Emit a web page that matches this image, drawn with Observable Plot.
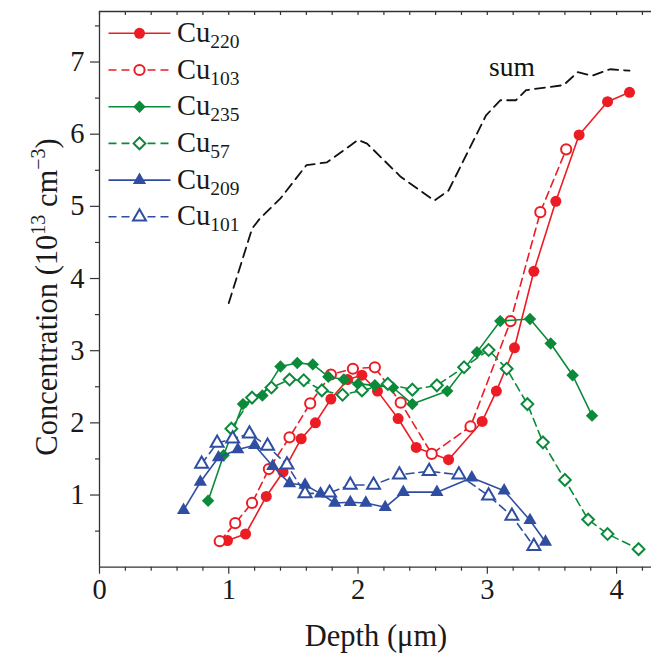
<!DOCTYPE html>
<html><head><meta charset="utf-8">
<script src="https://cdn.jsdelivr.net/npm/d3@7"></script>
<script src="https://cdn.jsdelivr.net/npm/@observablehq/plot@0.6"></script>
<style>
body{margin:0;background:#fff}
#chart svg{display:block}
</style>
</head><body><div id="chart"></div>
<script>
// ---- data (depth in µm, concentration in 1e13 cm^-3) ----
const cu220X = [0.99,1.13,1.29,1.42,1.56,1.67,1.79,1.92,2.03,2.15,2.31,2.45,2.70,2.96,3.07,3.21,3.36,3.53,3.71,3.93,4.10];
const cu220Y = [0.37,0.46,0.98,1.32,1.78,2.00,2.33,2.60,2.66,2.44,2.06,1.66,1.49,2.02,2.44,3.04,4.10,5.07,5.99,6.45,6.58];
const cu103X = [0.93,1.05,1.18,1.31,1.47,1.63,1.79,1.96,2.13,2.33,2.57,2.87,3.18,3.41,3.61];
const cu103Y = [0.36,0.61,0.89,1.36,1.80,2.27,2.67,2.75,2.77,2.28,1.57,1.95,3.41,4.92,5.79];
const cu235X = [0.84,0.96,1.11,1.26,1.40,1.53,1.65,1.77,1.89,2.00,2.13,2.27,2.42,2.69,2.92,3.10,3.33,3.49,3.66,3.81];
const cu235Y = [0.92,1.55,2.26,2.38,2.78,2.83,2.81,2.64,2.60,2.54,2.52,2.49,2.26,2.44,2.98,3.41,3.44,3.10,2.66,2.10];
const cu57X  = [1.02,1.18,1.33,1.47,1.58,1.72,1.88,2.03,2.23,2.42,2.61,2.82,3.01,3.15,3.31,3.43,3.60,3.78,3.93,4.17];
const cu57Y  = [1.92,2.35,2.49,2.60,2.59,2.45,2.39,2.45,2.54,2.46,2.52,2.77,3.01,2.75,2.26,1.73,1.21,0.66,0.46,0.25];
const cu209X = [0.65,0.78,0.92,1.07,1.20,1.34,1.47,1.59,1.71,1.82,1.94,2.06,2.21,2.35,2.61,2.88,3.13,3.33,3.45];
const cu209Y = [0.79,1.18,1.52,1.63,1.69,1.40,1.16,1.14,1.02,0.89,0.90,0.89,0.83,1.04,1.04,1.24,1.06,0.65,0.35];
const cu101X = [0.79,0.91,1.03,1.16,1.30,1.45,1.59,1.78,1.94,2.12,2.32,2.55,2.78,3.01,3.19,3.36];
const cu101Y = [1.43,1.72,1.78,1.85,1.68,1.42,1.02,1.03,1.14,1.14,1.28,1.33,1.28,0.99,0.71,0.29];
const sumX   = [1.00,1.18,1.24,1.40,1.60,1.76,2.00,2.07,2.33,2.59,2.70,2.99,3.10,3.22,3.30,3.59,3.70,3.81,3.95,4.10];
const sumY   = [3.66,4.69,4.83,5.11,5.57,5.61,5.92,5.87,5.41,5.08,5.22,6.26,6.47,6.47,6.61,6.68,6.86,6.81,6.90,6.88];

const seriesNames = ["220","103","235","57","209","101"];
const xTicks = [0,1,2,3,4];
const xMinorTicks = [0.2,0.4,0.6,0.8,1.2,1.4,1.6,1.8,2.2,2.4,2.6,2.8,3.2,3.4,3.6,3.8,4.2];
const xTopTicks = [0,0.2,0.4,0.6,0.8,1,1.2,1.4,1.6,1.8,2,2.2,2.4,2.6,2.8,3,3.2,3.4,3.6,3.8,4,4.2];
const yTicks = [1,2,3,4,5,6,7];
const yMinorTicks = [0.5,1.5,2.5,3.5,4.5,5.5,6.5,7.5];
const xDomain = [0, 4.27];
const yDomain = [0, 7.7];

// ---- styling ----
const RED = "#ec1c24", GREEN = "#0b8a3a", BLUE = "#2f4ea2";
const FONT = "'Liberation Serif','Times New Roman',serif";
const FS = 28.5;
const FS_TITLE = 30.5;
const series = [
  {sub: seriesNames[0], xs: cu220X, ys: cu220Y, color: RED,   symbol: "circle",   d3sym: d3.symbolCircle,   r: 5.5, filled: true},
  {sub: seriesNames[1], xs: cu103X, ys: cu103Y, color: RED,   symbol: "circle",   d3sym: d3.symbolCircle,   r: 5.1, filled: false},
  {sub: seriesNames[2], xs: cu235X, ys: cu235Y, color: GREEN, symbol: "diamond2", d3sym: d3.symbolDiamond2, r: 5.6, filled: true},
  {sub: seriesNames[3], xs: cu57X,  ys: cu57Y,  color: GREEN, symbol: "diamond2", d3sym: d3.symbolDiamond2, r: 5.3, filled: false},
  {sub: seriesNames[4], xs: cu209X, ys: cu209Y, color: BLUE,  symbol: "triangle", d3sym: d3.symbolTriangle, r: 4.9, filled: true},
  {sub: seriesNames[5], xs: cu101X, ys: cu101Y, color: BLUE,  symbol: "triangle", d3sym: d3.symbolTriangle, r: 4.8, filled: false}
];
const DASH = "8,5";

const W = 651, H = 659;
const mTop = 11, mBottom = 92.3, mLeft = 99, mRight = 0;
const frameH = H - mTop - mBottom;

const marks = [];
// frame lines
marks.push(Plot.ruleX([xDomain[0]], {stroke: "#333", strokeWidth: 1.3}));
marks.push(Plot.ruleY([yDomain[0]], {stroke: "#333", strokeWidth: 1.3}));
marks.push(Plot.ruleY([yDomain[1]], {stroke: "#333", strokeWidth: 1.3}));
// inward ticks on the top edge
marks.push(Plot.ruleX(xTopTicks, {x: d => d, insetBottom: frameH - 4, stroke: "#333", strokeWidth: 1.2}));
// axes
marks.push(Plot.axisX(xTicks, {anchor: "bottom", tickSize: 7, tickPadding: 5, label: null, fontSize: FS, tickFormat: d => String(d), stroke: "#333", strokeWidth: 1.2}));
marks.push(Plot.axisX(xMinorTicks, {anchor: "bottom", tickSize: 4, label: null, tickFormat: () => "", stroke: "#333", strokeWidth: 1.2}));
marks.push(Plot.axisY(yTicks, {anchor: "left", tickSize: 9, tickPadding: 6, label: null, fontSize: FS, tickFormat: d => String(d), stroke: "#333", strokeWidth: 1.2}));
marks.push(Plot.axisY(yMinorTicks, {anchor: "left", tickSize: 4, label: null, tickFormat: () => "", stroke: "#333", strokeWidth: 1.2}));

// sum curve
const sumRows = sumX.map((x, i) => ({x, y: sumY[i]}));
marks.push(Plot.line(sumRows, {x: "x", y: "y", stroke: "#111", strokeWidth: 1.8, strokeDasharray: "10,6"}));
marks.push(Plot.text([{x: 3.19, y: 6.81, t: "sum"}], {x: "x", y: "y", text: "t", fontSize: 27.5, fontFamily: FONT, lineAnchor: "bottom", textAnchor: "middle", fill: "#111"}));

for (const s of series) {
  const rows = s.xs.map((x, i) => ({x, y: s.ys[i]}));
  marks.push(Plot.line(rows, {x: "x", y: "y", stroke: s.color, strokeWidth: 1.6, strokeDasharray: s.filled ? null : DASH}));
  marks.push(Plot.dot(rows, {x: "x", y: "y", symbol: s.symbol, r: s.r,
    fill: s.filled ? s.color : "white", stroke: s.filled ? "none" : s.color, strokeWidth: 2}));
}

const svg = Plot.plot({
  width: W, height: H,
  marginTop: mTop, marginBottom: mBottom, marginLeft: mLeft, marginRight: mRight,
  x: {domain: xDomain},
  y: {domain: yDomain},
  style: {fontFamily: FONT, fontSize: FS + "px", color: "#1a1a1a", background: "white", overflow: "visible"},
  marks
});
document.getElementById("chart").append(svg);

// ---- legend & axis titles (layout) ----
const g = d3.select(svg).append("g").attr("font-family", FONT).attr("fill", "#1a1a1a");
const legX0 = 108.5, legX1 = 170.5, legMx = 139.5, legY0 = 33.3, legDy = 36.7;
series.forEach((s, i) => {
  const y = legY0 + i * legDy;
  g.append("line").attr("x1", legX0).attr("x2", legX1).attr("y1", y).attr("y2", y)
    .attr("stroke", s.color).attr("stroke-width", 1.6)
    .attr("stroke-dasharray", s.filled ? null : DASH);
  g.append("path").attr("transform", `translate(${legMx},${y})`)
    .attr("d", d3.symbol(s.d3sym, Math.PI * s.r * s.r)())
    .attr("fill", s.filled ? s.color : "white")
    .attr("stroke", s.filled ? "none" : s.color).attr("stroke-width", 2);
  const t = g.append("text").attr("x", 177).attr("y", y + 8.5)
    .attr("text-anchor", "start").attr("font-size", FS);
  t.append("tspan").text("Cu");
  t.append("tspan").attr("dy", 6).attr("font-size", 19.5).text(s.sub);
});

// x title
g.append("text").attr("x", 376).attr("y", 646).attr("text-anchor", "middle")
  .attr("font-size", FS_TITLE).text("Depth (μm)");
// y title
const yt = g.append("text").attr("transform", "translate(57,297) rotate(-90)")
  .attr("text-anchor", "middle").attr("font-size", FS_TITLE);
yt.append("tspan").text("Concentration (10");
yt.append("tspan").attr("dy", -12).attr("font-size", 20).text("13");
yt.append("tspan").attr("dy", 12).text(" cm");
yt.append("tspan").attr("dy", -12).attr("font-size", 20).text("−3");
yt.append("tspan").attr("dy", 12).text(")");
</script>
</body></html>
